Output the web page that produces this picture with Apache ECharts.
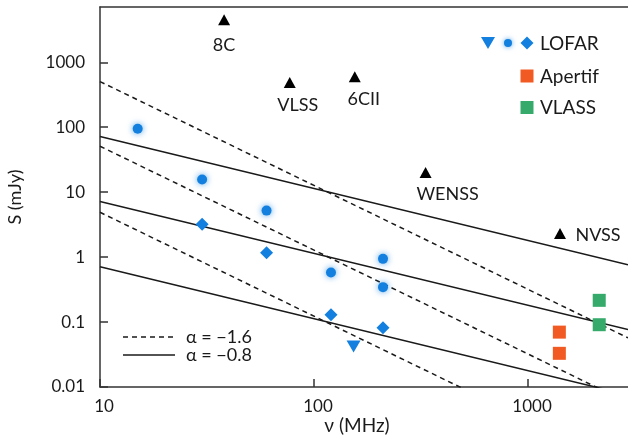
<!DOCTYPE html>
<html>
<head>
<meta charset="utf-8">
<script src="https://cdn.jsdelivr.net/npm/echarts@6/dist/echarts.min.js"></script>
<style>html,body{margin:0;padding:0;background:#fff;}#c{width:628px;height:437px;}</style>
</head>
<body>
<div id="c"></div>
<script>
// ---- data ----
const surveyNames = ['8C', 'VLSS', '6CII', 'WENSS', 'NVSS'];
const surveyFreq = [38, 77, 155, 332, 1410];
const surveyFlux = [4500, 490, 600, 20, 2.3];

const lofarCircleFreq = [15, 30, 60, 120, 210, 210];
const lofarCircleFlux = [95, 15.7, 5.2, 0.58, 0.94, 0.345];
const lofarDiamondFreq = [30, 60, 120, 210];
const lofarDiamondFlux = [3.2, 1.17, 0.13, 0.082];
const lofarLimitFreq = [153];
const lofarLimitFlux = [0.042];
const apertifFreq = [1400, 1400];
const apertifFlux = [0.070, 0.033];
const vlassFreq = [2150, 2150];
const vlassFlux = [0.216, 0.091];

// power-law reference lines: S = A * (nu/10)^alpha
const solidAlpha = -0.8;
const solidAmp = [72, 7.2, 0.71];
const dashedAlpha = -1.6;
const dashedAmp = [505, 51, 4.9];

const xTicks = [10, 100, 1000];
const yTicks = [0.01, 0.1, 1, 10, 100, 1000];

// ---- build ----
const XMIN = 10, XMAX = 2930, YMIN = 0.01, YMAX = 7100;
const BLUE = '#1380e0', ORANGE = '#f15a22', GREEN = '#35aa6b', INK = '#1a1a1a';
const FONT = 'Lato';

function zip(a, b) { return a.map((v, i) => [v, b[i]]); }
function powerLine(A, alpha) {
  return [XMIN, XMAX].map(nu => [nu, A * Math.pow(nu / 10, alpha)]);
}
function logLabel(list) {
  return function (v) {
    for (const t of list) { if (Math.abs(Math.log10(v) - Math.log10(t)) < 1e-6) return String(t); }
    return '';
  };
}

const labelOffsets = [[0, 25], [8, 23], [9, 22], [22, 22], [38, 2]];

const series = [];
solidAmp.forEach(A => series.push({
  type: 'line', data: powerLine(A, solidAlpha), symbol: 'none', silent: true,
  lineStyle: { color: INK, width: 1.5 }, z: 1
}));
dashedAmp.forEach(A => series.push({
  type: 'line', data: powerLine(A, dashedAlpha), symbol: 'none', silent: true,
  lineStyle: { color: INK, width: 1.5, type: [5, 4] }, z: 1
}));
series.push({
  type: 'scatter', symbol: 'triangle', symbolSize: [12, 11],
  itemStyle: { color: '#000', opacity: 1 },
  data: surveyFreq.map((f, i) => ({
    value: [f, surveyFlux[i]], name: surveyNames[i],
    label: { show: true, position: 'inside', offset: labelOffsets[i], formatter: '{b}',
      color: INK, opacity: 1, textBorderWidth: 0, textShadowBlur: 0, fontFamily: FONT, fontSize: 18 }
  })), z: 3
});
series.push({
  type: 'scatter', symbol: 'circle', symbolSize: 10,
  itemStyle: { color: BLUE, opacity: 1, shadowBlur: 6, shadowColor: 'rgba(19,128,224,0.7)' },
  data: zip(lofarCircleFreq, lofarCircleFlux), z: 3
});
series.push({
  type: 'scatter', symbol: 'diamond', symbolSize: [13, 13],
  itemStyle: { color: BLUE, opacity: 1 }, data: zip(lofarDiamondFreq, lofarDiamondFlux), z: 3
});
series.push({
  type: 'scatter', symbol: 'triangle', symbolRotate: 180, symbolSize: [14, 12],
  itemStyle: { color: BLUE, opacity: 1 }, data: zip(lofarLimitFreq, lofarLimitFlux), z: 3
});
series.push({
  type: 'scatter', symbol: 'rect', symbolSize: 13,
  itemStyle: { color: ORANGE, opacity: 1 }, data: zip(apertifFreq, apertifFlux), z: 3
});
series.push({
  type: 'scatter', symbol: 'rect', symbolSize: 13,
  itemStyle: { color: GREEN, opacity: 1 }, data: zip(vlassFreq, vlassFlux), z: 3
});

const txt = (x, y, s, size) => ({
  type: 'text', x: x, y: y,
  style: { text: s, fill: INK, font: (size || 19) + 'px ' + FONT, textVerticalAlign: 'middle', textAlign: 'left' }
});

const graphic = [
  // LOFAR legend
  { type: 'polygon', shape: { points: [[481, 37], [495, 37], [488, 49]] }, style: { fill: BLUE } },
  { type: 'circle', shape: { cx: 508, cy: 43, r: 4 }, style: { fill: BLUE, shadowBlur: 5, shadowColor: 'rgba(19,128,224,0.7)' } },
  { type: 'polygon', shape: { points: [[527, 36.5], [533.5, 43], [527, 49.5], [520.5, 43]] }, style: { fill: BLUE } },
  txt(540, 44, 'LOFAR'),
  { type: 'rect', shape: { x: 520.5, y: 69.5, width: 13, height: 13 }, style: { fill: ORANGE } },
  txt(540, 77, 'Apertif'),
  { type: 'rect', shape: { x: 520.5, y: 101, width: 13, height: 13 }, style: { fill: GREEN } },
  txt(540, 108, 'VLASS'),
  // alpha legend
  { type: 'line', shape: { x1: 123, y1: 337, x2: 175, y2: 337 }, style: { stroke: INK, lineWidth: 1.5, lineDash: [5, 4] } },
  txt(186, 337, 'α = −1.6', 18),
  { type: 'line', shape: { x1: 123, y1: 355, x2: 175, y2: 355 }, style: { stroke: INK, lineWidth: 1.5 } },
  txt(186, 355, 'α = −0.8', 18),
  // x axis name
  { type: 'text', x: 357, y: 426, style: { text: 'ν (MHz)', fill: INK, font: '19px ' + FONT, textAlign: 'center', textVerticalAlign: 'middle' } }
];

const chart = echarts.init(document.getElementById('c'));
chart.setOption({
  animation: false,
  backgroundColor: '#fff',
  grid: { left: 100, right: 0, top: 7, bottom: 50, containLabel: false, outerBoundsMode: 'none' },
  xAxis: [{
    type: 'log', logBase: 10, min: XMIN, max: XMAX,
    axisLine: { lineStyle: { color: '#333', width: 1.5 } },
    axisTick: { inside: true, length: 8, lineStyle: { color: '#333', width: 1.5 } },
    axisLabel: { color: INK, fontFamily: FONT, fontSize: 17, margin: 11, padding: [0, 0, 0, 8],
      formatter: logLabel(xTicks), showMaxLabel: false },
    splitLine: { show: false }
  }, {
    type: 'log', logBase: 10, min: XMIN, max: XMAX, position: 'top',
    axisLine: { show: true, lineStyle: { color: '#333', width: 1.5 } },
    axisTick: { show: false }, axisLabel: { show: false }, splitLine: { show: false }
  }],
  yAxis: {
    type: 'log', logBase: 10, min: YMIN, max: YMAX,
    name: 'S (mJy)', nameLocation: 'middle', nameGap: 76,
    nameTextStyle: { color: INK, fontFamily: FONT, fontSize: 18 },
    axisLine: { lineStyle: { color: '#333', width: 1.5 } },
    axisTick: { inside: true, length: 8, lineStyle: { color: '#333', width: 1.5 } },
    axisLabel: { color: INK, fontFamily: FONT, fontSize: 17, margin: 15, formatter: logLabel(yTicks), showMaxLabel: false },
    splitLine: { show: false }
  },
  series: series,
  graphic: graphic
});
</script>
</body>
</html>
